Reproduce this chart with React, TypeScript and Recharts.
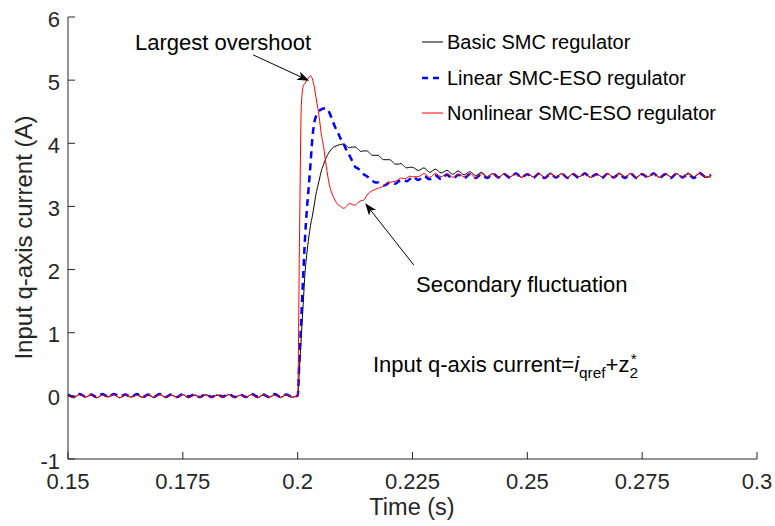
import { LineChart, Line, XAxis, YAxis, ReferenceLine } from "recharts";

const FONT = '"Liberation Sans", Arial, Helvetica, sans-serif';
const AXIS = "#262626";

// sample times (s): half ripple period before/after the step, finer during the transient
const TIME = [
  0.15, 0.15125, 0.1525, 0.15375, 0.155, 0.15625, 0.1575, 0.15875, 0.16, 0.16125,
  0.1625, 0.16375, 0.165, 0.16625, 0.1675, 0.16875, 0.17, 0.17125, 0.1725, 0.17375,
  0.175, 0.17625, 0.1775, 0.17875, 0.18, 0.18125, 0.1825, 0.18375, 0.185, 0.18625,
  0.1875, 0.18875, 0.19, 0.19125, 0.1925, 0.19375, 0.195, 0.19625, 0.1975, 0.19875,
  0.2,
  0.2004, 0.2008, 0.2012, 0.2016, 0.202, 0.2024, 0.2028, 0.2032, 0.2036, 0.204, 0.2044, 0.2048,
  0.205, 0.205625, 0.20625, 0.206875, 0.2075, 0.208125, 0.20875, 0.209375, 0.21, 0.210625,
  0.21125, 0.211875, 0.2125, 0.213125, 0.21375, 0.214375, 0.215, 0.215625, 0.21625, 0.216875,
  0.2175, 0.218125, 0.21875, 0.219375, 0.22, 0.220625, 0.22125, 0.221875, 0.2225, 0.223125,
  0.22375, 0.224375, 0.225,
  0.22625, 0.2275, 0.22875, 0.23, 0.23125, 0.2325, 0.23375, 0.235, 0.23625, 0.2375,
  0.23875, 0.24, 0.24125, 0.2425, 0.24375, 0.245, 0.24625, 0.2475, 0.24875, 0.25,
  0.25125, 0.2525, 0.25375, 0.255, 0.25625, 0.2575, 0.25875, 0.26, 0.26125, 0.2625,
  0.26375, 0.265, 0.26625, 0.2675, 0.26875, 0.27, 0.27125, 0.2725, 0.27375, 0.275,
  0.27625, 0.2775, 0.27875, 0.28, 0.28125, 0.2825, 0.28375, 0.285, 0.28625, 0.2875,
  0.28875, 0.29,
];

const BASIC = [
  0.01, -0.02, 0.02, -0.02, 0.01, -0.03, 0.02, -0.01, 0.02, -0.03,
  0.01, -0.02, 0.02, -0.02, 0.01, -0.03, 0.02, -0.02, 0.01, -0.02,
  0.02, -0.03, 0.01, -0.02, 0.02, -0.02, 0.01, -0.03, 0.02, -0.02,
  0.01, -0.02, 0.02, -0.03, 0.01, -0.02, 0.02, -0.02, 0.01, -0.02,
  0,
  0.45, 0.95, 1.45, 1.95, 2.25, 2.5, 2.7, 2.85, 3.02, 3.2, 3.33, 3.45,
  3.52, 3.66, 3.78, 3.86, 3.92, 3.95, 3.97, 3.98, 3.99, 3.96,
  3.93, 3.94, 3.94, 3.91, 3.87, 3.88, 3.88, 3.85, 3.81, 3.81,
  3.81, 3.77, 3.74, 3.74, 3.74, 3.71, 3.67, 3.67, 3.68, 3.64,
  3.61, 3.62, 3.62,
  3.57, 3.61, 3.54, 3.59, 3.53, 3.57, 3.51, 3.56, 3.5, 3.55, 3.49, 3.54,
  3.47, 3.52, 3.46, 3.52, 3.47, 3.53, 3.46, 3.52, 3.47, 3.52,
  3.46, 3.53, 3.47, 3.52, 3.46, 3.52, 3.47, 3.53, 3.46, 3.52,
  3.47, 3.52, 3.46, 3.53, 3.47, 3.52, 3.46, 3.52, 3.47, 3.53,
  3.46, 3.52, 3.47, 3.52, 3.46, 3.53, 3.47, 3.52, 3.46, 3.47,
];

const LINEAR = [
  0.02, -0.02, 0.03, -0.01, 0.02, -0.02, 0.03, -0.02, 0.03, -0.01,
  0.02, -0.02, 0.03, -0.02, 0.02, -0.01, 0.03, -0.02, 0.02, -0.02,
  0.03, -0.01, 0.02, -0.02, 0.03, -0.02, 0.02, -0.01, 0.03, -0.02,
  0.02, -0.02, 0.03, -0.01, 0.02, -0.02, 0.03, -0.02, 0.02, -0.01,
  0,
  0.6, 1.25, 1.9, 2.5, 2.95, 3.3, 3.68, 4.08, 4.32, 4.43, 4.48, 4.52,
  4.53, 4.55, 4.55, 4.49, 4.38, 4.26, 4.17, 4.07, 3.99, 3.89,
  3.81, 3.72, 3.63, 3.6, 3.56, 3.51, 3.48, 3.45, 3.41, 3.38,
  3.38, 3.35, 3.33, 3.35, 3.38, 3.37, 3.36, 3.39, 3.42, 3.41,
  3.4, 3.43, 3.47,
  3.42, 3.48, 3.43, 3.49, 3.43, 3.5, 3.44, 3.5, 3.45, 3.51, 3.45, 3.51,
  3.45, 3.52, 3.46, 3.51, 3.45, 3.52, 3.46, 3.51, 3.45, 3.52,
  3.45, 3.51, 3.46, 3.52, 3.45, 3.51, 3.45, 3.52, 3.46, 3.51,
  3.45, 3.52, 3.46, 3.51, 3.45, 3.52, 3.45, 3.51, 3.46, 3.52,
  3.45, 3.51, 3.45, 3.52, 3.46, 3.51, 3.45, 3.53, 3.47, 3.5,
];

const NONLINEAR = [
  0.01, -0.03, 0.02, -0.02, 0.02, -0.03, 0.01, -0.02, 0.02, -0.03,
  0.02, -0.02, 0.01, -0.03, 0.02, -0.02, 0.02, -0.03, 0.01, -0.02,
  0.02, -0.03, 0.02, -0.02, 0.01, -0.03, 0.02, -0.02, 0.02, -0.03,
  0.01, -0.02, 0.02, -0.03, 0.02, -0.02, 0.01, -0.03, 0.02, -0.02,
  0,
  2.5, 4.6, 4.9, 4.95, 5.0, 5.04, 5.07, 5.02, 4.9, 4.72, 4.55, 4.35,
  4.22, 3.95, 3.63, 3.35, 3.2, 3.1, 3.03, 3.0, 2.97, 3.0,
  3.05, 3.03, 3.02, 3.06, 3.09, 3.1, 3.17, 3.22, 3.25, 3.27,
  3.29, 3.3, 3.33, 3.37, 3.38, 3.39, 3.4, 3.42, 3.45, 3.44,
  3.45, 3.48, 3.47,
  3.47, 3.52, 3.46, 3.52, 3.47, 3.52, 3.46, 3.51, 3.47, 3.52, 3.46, 3.52,
  3.47, 3.52, 3.46, 3.52, 3.47, 3.51, 3.46, 3.52, 3.47, 3.52,
  3.46, 3.51, 3.47, 3.52, 3.46, 3.52, 3.47, 3.51, 3.46, 3.52,
  3.47, 3.52, 3.46, 3.51, 3.47, 3.52, 3.46, 3.52, 3.47, 3.51,
  3.46, 3.52, 3.47, 3.52, 3.46, 3.51, 3.47, 3.53, 3.47, 3.49,
];

const X_TICKS = [0.15, 0.175, 0.2, 0.225, 0.25, 0.275, 0.3];
const Y_TICKS = [-1, 0, 1, 2, 3, 4, 5, 6];

const SERIES = [
  { key: "basic", name: "Basic SMC regulator", color: "#000000", width: 1, dash: undefined },
  { key: "linear", name: "Linear SMC-ESO regulator", color: "#0000ff", width: 2.5, dash: "7 5" },
  { key: "nonlinear", name: "Nonlinear SMC-ESO regulator", color: "#ff0000", width: 1, dash: undefined },
];

// annotation arrows, tail -> head, in data units
const OVERSHOOT_ARROW = [{ x: 0.1903, y: 5.4 }, { x: 0.2025, y: 4.99 }];
const FLUCT_ARROW = [{ x: 0.2253, y: 2.07 }, { x: 0.2147, y: 3.05 }];

const data = TIME.map((t, i) => ({
  t,
  basic: BASIC[i],
  linear: LINEAR[i],
  nonlinear: NONLINEAR[i],
}));

const XTick = ({ x, y, payload }: any) => (
  <g>
    <line x1={x} y1={y} x2={x} y2={y - 7} stroke={AXIS} />
    <text x={x} y={y + 29.5} textAnchor="middle" fontSize={22} fill={AXIS} fontFamily={FONT}>
      {String(payload.value)}
    </text>
  </g>
);

const YTick = ({ x, y, payload }: any) => (
  <g>
    <line x1={x} y1={y} x2={x + 7} y2={y} stroke={AXIS} />
    <text x={x - 8} y={y + 9.5} textAnchor="end" fontSize={22} fill={AXIS} fontFamily={FONT}>
      {String(payload.value)}
    </text>
  </g>
);

const Arrow = ({ x1, y1, x2, y2 }: any) => {
  const a = Math.atan2(y2 - y1, x2 - x1);
  const c = Math.cos(a);
  const s = Math.sin(a);
  const bx = x2 - 12 * c;
  const by = y2 - 12 * s;
  const nx = x2 - 9 * c;
  const ny = y2 - 9 * s;
  const pts = `${x2},${y2} ${bx - 4.5 * s},${by + 4.5 * c} ${nx},${ny} ${bx + 4.5 * s},${by - 4.5 * c}`;
  return (
    <g>
      <line x1={x1} y1={y1} x2={nx} y2={ny} stroke="#000" strokeWidth={1} />
      <polygon points={pts} fill="#000" />
    </g>
  );
};

export default function App() {
  return (
    <div style={{ position: "absolute", left: 0, top: 0, width: 775, height: 526, background: "#fff" }}>
      <LineChart width={775} height={526} data={data} margin={{ top: 17, right: 18, bottom: 1, left: 8 }}>
        <XAxis
          dataKey="t"
          type="number"
          domain={[0.15, 0.3]}
          ticks={X_TICKS}
          interval={0}
          height={66}
          tickSize={0}
          tickMargin={0}
          tickLine={false}
          axisLine={{ stroke: AXIS }}
          tick={<XTick />}
        />
        <YAxis
          type="number"
          domain={[-1, 6]}
          ticks={Y_TICKS}
          interval={0}
          width={60}
          tickSize={0}
          tickMargin={0}
          tickLine={false}
          axisLine={{ stroke: AXIS }}
          tick={<YTick />}
        />
        {SERIES.map((s) => (
          <Line
            key={s.key}
            type="monotone"
            dataKey={s.key}
            name={s.name}
            stroke={s.color}
            strokeWidth={s.width}
            strokeDasharray={s.dash}
            dot={false}
            activeDot={false}
            isAnimationActive={false}
          />
        ))}
        <ReferenceLine segment={OVERSHOOT_ARROW} shape={<Arrow />} />
        <ReferenceLine segment={FLUCT_ARROW} shape={<Arrow />} />
      </LineChart>

      <svg
        width={775}
        height={526}
        style={{ position: "absolute", left: 0, top: 0, pointerEvents: "none" }}
        fontFamily={FONT}
      >
        <text x={32} y={237.5} transform="rotate(-90 32 237.5)" textAnchor="middle" fontSize={24} fill={AXIS}>
          Input q-axis current (A)
        </text>
        <text x={412} y={515} textAnchor="middle" fontSize={23.5} fill={AXIS}>
          Time (s)
        </text>

        {SERIES.map((s, i) => {
          const cy = 42 + Math.round(i * 35.5);
          return (
            <g key={s.key}>
              <line
                x1={422}
                y1={cy}
                x2={443}
                y2={cy}
                stroke={s.color}
                strokeWidth={s.width}
                strokeDasharray={s.dash ? "6 5" : undefined}
              />
              <text x={447} y={cy + 7} fontSize={20} fill="#000">
                {s.name}
              </text>
            </g>
          );
        })}

        <text x={135} y={49.5} fontSize={22} fill="#000">
          Largest overshoot
        </text>
        <text x={416} y={291.5} fontSize={22} fill="#000">
          Secondary fluctuation
        </text>
        <text x={373} y={371.5} fontSize={22} fill="#000">
          Input q-axis current=
          <tspan fontStyle="italic">i</tspan>
          <tspan dy={6} fontSize={15.4}>qref</tspan>
          <tspan dy={-6}>+z</tspan>
          <tspan dy={6} fontSize={15.4}>2</tspan>
          <tspan dx={-7.3} dy={-13.5} fontSize={15.4}>*</tspan>
        </text>
      </svg>
    </div>
  );
}
